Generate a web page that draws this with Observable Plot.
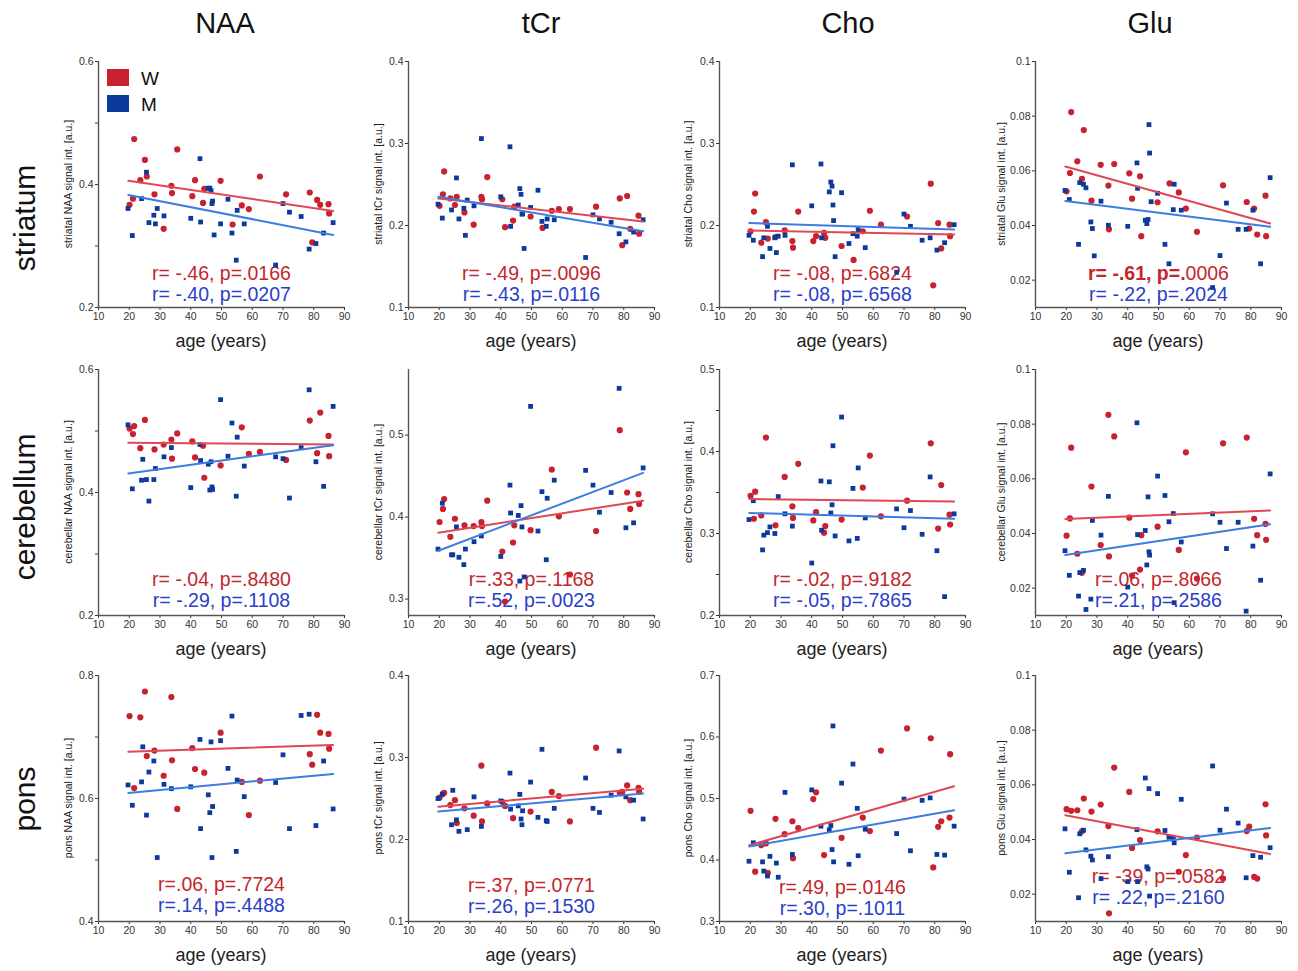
<!DOCTYPE html>
<html><head><meta charset="utf-8">
<script src="https://cdn.jsdelivr.net/npm/d3@7"></script>
<script src="https://cdn.jsdelivr.net/npm/@observablehq/plot@0.6"></script>
<style>
html,body{margin:0;padding:0;background:#fff;}
#chart{position:relative;width:1298px;height:971px;overflow:hidden;background:#fff;font-family:"Liberation Sans",Arial,sans-serif;}
#chart svg{position:absolute;}
</style></head><body><div id="chart"></div>
<script>
// ---------------- DATA ----------------
const regions = ["striatum", "cerebellum", "pons"];
const regionAdj = ["striatal", "cerebellar", "pons"];
const metabolites = ["NAA", "tCr", "Cho", "Glu"];
const groups = ["W", "M"];

// subject ages (years)
const ageW = [20.1, 21.2, 21.6, 23.6, 25.1, 25.7, 28.2, 31.2, 33.7, 33.9, 35.6, 40.5, 41.4, 44.0, 44.4, 49.7, 53.6, 56.6, 58.9, 62.5, 71.0, 78.7, 79.5, 81.1, 82.1, 84.8, 85.0];
const ageM = [19.6, 21.0, 24.0, 24.4, 25.6, 26.4, 28.0, 28.5, 29.1, 31.3, 33.7, 40.0, 43.0, 43.2, 45.7, 46.2, 46.6, 46.9, 47.1, 47.6, 49.7, 52.1, 53.4, 54.8, 55.1, 57.4, 67.6, 70.0, 72.1, 75.9, 78.5, 80.7, 83.2, 86.3];

// signal intensities [a.u.]
const striatumNAA_W = [0.367, 0.377, 0.474, 0.407, 0.440, 0.413, 0.384, 0.328, 0.398, 0.386, 0.457, 0.381, 0.407, 0.370, 0.393, 0.406, 0.335, 0.366, 0.360, 0.413, 0.384, 0.387, 0.306, 0.375, 0.367, 0.368, 0.353];
const striatumNAA_M = [0.361, 0.317, 0.377, null, 0.420, 0.338, 0.350, 0.336, 0.361, 0.349, null, 0.345, 0.442, 0.339, 0.394, 0.394, 0.390, 0.369, 0.373, 0.318, 0.336, 0.376, 0.321, 0.277, 0.358, 0.336, 0.269, 0.369, 0.355, 0.348, 0.295, 0.304, 0.321, 0.338];
const striatumTCr_W = [0.224, 0.238, 0.266, 0.233, 0.225, 0.235, 0.216, 0.201, 0.235, 0.232, 0.259, 0.232, 0.198, 0.206, 0.223, 0.211, 0.197, 0.218, 0.220, 0.220, 0.223, 0.233, 0.176, 0.236, 0.196, 0.212, 0.190];
const striatumTCr_M = [0.226, 0.209, 0.219, null, 0.258, 0.208, 0.221, 0.188, 0.231, 0.224, 0.306, 0.235, 0.296, 0.199, 0.225, 0.245, 0.238, 0.214, 0.214, 0.172, 0.222, 0.243, 0.205, 0.199, 0.208, 0.207, 0.161, 0.213, 0.208, 0.204, 0.190, 0.180, 0.192, 0.207];
const striatumCho_W = [0.193, 0.217, 0.239, 0.179, 0.204, 0.184, 0.186, 0.194, 0.181, 0.173, 0.217, 0.181, 0.187, 0.191, 0.185, 0.175, 0.158, 0.193, 0.218, 0.201, 0.211, 0.251, 0.127, 0.203, 0.172, 0.201, 0.187];
const striatumCho_M = [0.188, 0.182, 0.162, 0.185, 0.199, 0.172, 0.185, 0.167, 0.187, 0.188, 0.274, 0.224, 0.275, 0.185, 0.241, 0.253, 0.248, 0.225, 0.206, 0.162, 0.240, 0.178, 0.190, 0.187, 0.195, 0.173, 0.143, 0.214, 0.199, 0.182, 0.185, 0.170, 0.179, 0.201];
const striatumGlu_W = [0.0525, 0.0592, 0.0815, 0.0635, 0.0571, 0.0749, 0.0491, 0.0622, 0.0546, 0.0386, 0.0625, 0.0591, 0.0498, 0.0580, 0.0361, 0.0485, 0.0554, 0.0521, 0.0462, 0.0377, 0.0547, 0.0486, 0.0389, 0.0462, 0.0367, 0.0509, 0.0361];
const striatumGlu_M = [0.0528, 0.0495, 0.0331, 0.0557, 0.0551, 0.0538, 0.0413, 0.0389, 0.0289, 0.0489, 0.0401, 0.0397, 0.0629, 0.0536, 0.0419, 0.0407, 0.0422, 0.0769, 0.0665, 0.0487, 0.0518, 0.0331, 0.0260, 0.0458, 0.0551, 0.0456, 0.0173, 0.0290, 0.0482, 0.0386, 0.0386, 0.0456, 0.0260, 0.0575];

const cerebellumNAA_W = [0.504, 0.495, 0.508, 0.472, 0.518, null, 0.470, 0.478, 0.486, 0.455, 0.496, 0.483, 0.457, 0.476, 0.424, 0.444, null, 0.506, 0.463, 0.466, 0.453, 0.517, null, 0.464, 0.530, 0.492, 0.459];
const cerebellumNAA_M = [0.510, 0.406, 0.420, 0.454, 0.421, 0.386, 0.421, 0.439, null, 0.458, 0.473, 0.408, 0.478, 0.452, 0.446, 0.404, 0.450, 0.409, 0.405, null, 0.551, 0.459, 0.513, 0.394, 0.490, 0.443, 0.458, 0.455, 0.391, 0.473, 0.567, 0.450, 0.410, 0.540];
const cerebellumTCr_W = [0.394, 0.410, 0.422, 0.376, 0.398, null, 0.390, 0.389, 0.394, 0.389, 0.420, 0.358, 0.297, 0.369, 0.390, 0.384, null, 0.458, 0.401, 0.330, 0.383, 0.506, null, 0.430, 0.410, 0.428, 0.416];
const cerebellumTCr_M = [0.361, 0.417, 0.354, 0.354, 0.388, 0.351, 0.342, 0.361, null, 0.370, 0.377, 0.352, 0.439, 0.405, 0.402, 0.322, 0.414, 0.388, null, 0.327, 0.535, 0.383, 0.431, 0.348, 0.423, 0.445, 0.457, 0.439, 0.406, 0.430, 0.557, 0.387, 0.393, 0.460];
const cerebellumCho_W = [0.346, 0.318, 0.351, 0.322, 0.417, null, 0.310, 0.369, 0.333, 0.319, 0.385, 0.316, 0.326, 0.301, 0.309, 0.317, null, 0.356, 0.395, 0.321, 0.340, 0.410, null, 0.306, 0.359, 0.323, 0.311];
const cerebellumCho_M = [0.317, 0.340, 0.280, 0.298, 0.301, 0.308, 0.300, null, 0.345, 0.324, 0.309, 0.264, 0.364, 0.304, 0.363, 0.325, 0.335, 0.407, null, 0.297, 0.442, 0.291, 0.355, 0.294, 0.380, 0.319, 0.330, 0.307, 0.328, 0.299, 0.369, 0.279, 0.223, 0.324];
const cerebellumGlu_W = [0.0392, 0.0455, 0.0714, 0.0326, 0.0256, null, 0.0572, 0.0358, 0.0834, 0.0316, 0.0755, 0.0458, 0.0246, 0.0268, 0.0394, 0.0425, null, 0.0340, 0.0697, 0.0235, 0.0730, 0.0751, null, 0.0454, 0.0394, 0.0435, 0.0377];
const cerebellumGlu_M = [0.0337, 0.0247, 0.0171, 0.0257, 0.0265, 0.0122, 0.0160, 0.0448, null, 0.0394, 0.0536, 0.0204, 0.0805, 0.0396, 0.0411, 0.0285, 0.0534, 0.0333, 0.0321, null, 0.0610, 0.0539, 0.0443, 0.0473, 0.0147, 0.0369, 0.0472, 0.0441, 0.0345, 0.0441, 0.0116, 0.0354, 0.0229, 0.0618];

const ponsNAA_W = [0.734, null, 0.617, 0.732, 0.774, 0.669, 0.678, 0.637, 0.765, 0.662, 0.583, 0.682, 0.648, null, 0.642, 0.707, null, 0.627, 0.573, 0.629, null, 0.672, 0.655, 0.736, 0.707, 0.705, 0.681];
const ponsNAA_M = [0.622, 0.589, 0.627, 0.684, 0.573, 0.643, 0.661, null, 0.504, 0.623, 0.616, 0.619, 0.696, 0.551, 0.606, 0.577, 0.692, 0.504, 0.587, null, 0.694, 0.649, 0.734, 0.514, 0.630, 0.603, 0.626, 0.671, 0.551, 0.735, 0.737, 0.556, 0.661, 0.583];
const ponsTCr_W = [0.251, 0.256, 0.257, 0.242, 0.248, 0.220, 0.238, 0.229, 0.290, 0.222, 0.244, 0.246, 0.241, 0.226, null, 0.234, null, 0.258, 0.253, 0.222, 0.312, 0.257, 0.258, 0.266, 0.248, 0.263, 0.258];
const ponsTCr_M = [0.250, 0.255, 0.218, 0.260, 0.224, 0.210, null, null, 0.212, 0.252, 0.216, 0.247, 0.281, 0.237, 0.241, 0.255, 0.225, 0.218, 0.235, null, 0.270, 0.227, 0.310, 0.223, 0.222, 0.238, 0.275, 0.238, 0.233, 0.254, 0.308, 0.252, 0.248, 0.225];
const ponsCho_W = [0.480, null, 0.381, 0.424, 0.427, 0.379, 0.467, 0.442, 0.463, 0.403, 0.452, 0.499, 0.510, 0.408, null, 0.436, null, 0.469, 0.447, 0.578, 0.614, 0.598, 0.388, 0.454, 0.463, 0.469, 0.572];
const ponsCho_M = [0.398, 0.428, 0.397, 0.382, 0.374, 0.406, null, 0.395, 0.372, 0.510, 0.409, 0.514, 0.455, null, 0.449, 0.456, 0.417, 0.618, 0.397, null, 0.525, 0.393, 0.556, 0.484, 0.407, 0.450, 0.443, 0.499, 0.415, 0.497, 0.501, 0.409, 0.408, 0.455];
const ponsGlu_W = [0.0511, null, 0.0505, 0.0507, 0.0430, 0.0550, 0.0502, 0.0528, 0.0449, 0.0130, 0.0663, 0.0574, 0.0369, 0.0398, null, 0.0430, null, 0.0282, 0.0343, 0.0407, 0.0257, 0.0431, 0.0447, 0.0263, 0.0257, 0.0529, 0.0415];
const ponsGlu_M = [0.0439, 0.0280, 0.0187, 0.0421, 0.0434, 0.0362, 0.0339, 0.0325, null, 0.0257, 0.0337, 0.0246, 0.0436, 0.0246, 0.0625, 0.0300, 0.0292, 0.0586, 0.0193, null, 0.0568, 0.0433, 0.0408, 0.0405, 0.0388, 0.0547, 0.0669, 0.0434, 0.0511, 0.0460, 0.0260, 0.0341, 0.0335, 0.0370];

// regression lines: values at the two ends of the fitted age range
const fitAges = [19.7, 86.3];
const fitW = [[0.406, 0.357], [0.233, 0.205], [0.194, 0.189], [0.0616, 0.0407],
              [0.481, 0.478], [0.381, 0.420], [0.342, 0.339], [0.0453, 0.0484],
              [0.676, 0.687], [0.240, 0.262], [0.424, 0.520], [0.0489, 0.0347]];
const fitM = [[0.383, 0.318], [0.235, 0.193], [0.203, 0.195], [0.0490, 0.0395],
              [0.431, 0.477], [0.359, 0.454], [0.325, 0.318], [0.0321, 0.0434],
              [0.609, 0.640], [0.234, 0.256], [0.422, 0.481], [0.0350, 0.0442]];

// correlation statistics
const statsW = ["r= -.46, p=.0166", "r= -.49, p=.0096", "r= -.08, p=.6824", "r= -.61, p=.0006",
                "r= -.04, p=.8480", "r=.33, p=.1168", "r= -.02, p=.9182", "r=.06, p=.8066",
                "r=.06, p=.7724", "r=.37, p=.0771", "r=.49, p=.0146", "r= -39, p=.0582"];
const statsM = ["r= -.40, p=.0207", "r= -.43, p=.0116", "r= -.08, p=.6568", "r= -.22, p=.2024",
                "r= -.29, p=.1108", "r=.52, p=.0023", "r= -.05, p=.7865", "r=.21, p=.2586",
                "r=.14, p=.4488", "r=.26, p=.1530", "r=.30, p=.1011", "r= .22, p=.2160"];
const boldCharsW = [0, 0, 0, 12, 0, 0, 0, 0, 0, 0, 0, 0];

// axes
const xTicks = [10, 20, 30, 40, 50, 60, 70, 80, 90];
const yDomains = [[0.2, 0.6], [0.1, 0.4], [0.1, 0.4], [0.01, 0.1],
                  [0.2, 0.6], [0.28, 0.58], [0.2, 0.5], [0.01, 0.1],
                  [0.4, 0.8], [0.1, 0.4], [0.3, 0.7], [0.01, 0.1]];
const yTicks = [[0.2, 0.4, 0.6], [0.1, 0.2, 0.3, 0.4], [0.1, 0.2, 0.3, 0.4], [0.02, 0.04, 0.06, 0.08, 0.1],
                [0.2, 0.4, 0.6], [0.3, 0.4, 0.5], [0.2, 0.3, 0.4, 0.5], [0.02, 0.04, 0.06, 0.08, 0.1],
                [0.4, 0.6, 0.8], [0.1, 0.2, 0.3, 0.4], [0.3, 0.4, 0.5, 0.6, 0.7], [0.02, 0.04, 0.06, 0.08, 0.1]];
const yMinorTicks = [[0.3, 0.5], [], [], [],
                     [0.3, 0.5], [], [0.25, 0.35, 0.45], [],
                     [0.5, 0.7], [], [], []];

// ---------------- LAYOUT / STYLE ----------------
const FONT = '"Liberation Sans", Arial, Helvetica, sans-serif';
const RED = "#c8212f", BLUE = "#0b3a9c";
const RED_LINE = "#e04855", BLUE_LINE = "#3b7de0";
const RED_TXT = "#c3262b", BLUE_TXT = "#2a40c8";
const AXIS = "#555";
const colLeft = [98, 408, 719, 1035];
const rowTop = [61, 369, 675];
const frameW = 246, frameH = 246;
const mL = 46, mR = 14, mT = 14, mB = 30;
const statDy = [[-28, -7], [-28, -7], [-28, -7], [-28, -7],
                [-30, -9], [-30, -9], [-30, -9], [-30, -9],
                [-31, -10], [-30, -9], [-28, -7], [-39, -18]];

const valuesW = [striatumNAA_W, striatumTCr_W, striatumCho_W, striatumGlu_W,
                 cerebellumNAA_W, cerebellumTCr_W, cerebellumCho_W, cerebellumGlu_W,
                 ponsNAA_W, ponsTCr_W, ponsCho_W, ponsGlu_W];
const valuesM = [striatumNAA_M, striatumTCr_M, striatumCho_M, striatumGlu_M,
                 cerebellumNAA_M, cerebellumTCr_M, cerebellumCho_M, cerebellumGlu_M,
                 ponsNAA_M, ponsTCr_M, ponsCho_M, ponsGlu_M];

const chart = document.getElementById("chart");

regions.forEach((region, r) => {
  metabolites.forEach((met, c) => {
    const k = r * 4 + c;
    const ptsW = ageW.map((a, i) => ({age: a, v: valuesW[k][i]})).filter(d => d.v != null);
    const ptsM = ageM.map((a, i) => ({age: a, v: valuesM[k][i]})).filter(d => d.v != null);
    const lineW = fitAges.map((a, i) => ({age: a, v: fitW[k][i]}));
    const lineM = fitAges.map((a, i) => ({age: a, v: fitM[k][i]}));
    const svg = Plot.plot({
      width: mL + frameW + mR,
      height: mT + frameH + mB,
      marginLeft: mL, marginRight: mR, marginTop: mT, marginBottom: mB,
      style: {fontFamily: FONT, fontSize: "10.5px", background: "transparent", overflow: "visible"},
      x: {domain: [10, 90]},
      y: {domain: yDomains[k]},
      marks: [
        Plot.axisX({ticks: xTicks, tickSize: 3, tickPadding: 2, label: null, color: "#333", fontSize: 10.5, tickFormat: d => String(d)}),
        Plot.axisY({ticks: yTicks[k], tickSize: 3, tickPadding: 2, label: null, color: "#333", fontSize: 10.5, tickFormat: d => String(d)}),
        Plot.axisY({ticks: yMinorTicks[k], tickSize: 3, tickFormat: () => "", label: null, color: "#333"}),
        Plot.ruleX([10], {stroke: AXIS, strokeWidth: 1.4}),
        Plot.ruleY([yDomains[k][0]], {stroke: AXIS, strokeWidth: 1.4}),
        Plot.text([statsW[k]], {text: d => d, frameAnchor: "bottom", dy: statDy[k][0], fill: RED_TXT, fontSize: 19.5}),
        Plot.text([statsM[k]], {text: d => d, frameAnchor: "bottom", dy: statDy[k][1], fill: BLUE_TXT, fontSize: 19.5}),
        Plot.dot(ptsW, {x: "age", y: "v", r: 3.1, fill: RED, stroke: "none"}),
        Plot.dot(ptsM, {x: "age", y: "v", r: 2.7, symbol: "square", fill: BLUE, stroke: "none"}),
        Plot.line(lineW, {x: "age", y: "v", stroke: RED_LINE, strokeWidth: 2}),
        Plot.line(lineM, {x: "age", y: "v", stroke: BLUE_LINE, strokeWidth: 2})
      ]
    });
    svg.style.left = (colLeft[c] - mL) + "px";
    svg.style.top = (rowTop[r] - mT) + "px";
    // partial bold in the W statistic
    if (boldCharsW[k] > 0) {
      const texts = svg.querySelectorAll('g[aria-label="text"] text');
      const t = texts[0];
      const s = t.textContent;
      t.textContent = "";
      const ns = "http://www.w3.org/2000/svg";
      const b = document.createElementNS(ns, "tspan");
      b.setAttribute("font-weight", "bold");
      b.textContent = s.slice(0, boldCharsW[k]);
      const n = document.createElementNS(ns, "tspan");
      n.textContent = s.slice(boldCharsW[k]);
      t.appendChild(b); t.appendChild(n);
    }
    chart.appendChild(svg);
  });
});

// ---------------- OVERLAY TEXT ----------------
const ov = d3.select(chart).append("svg")
  .attr("width", 1298).attr("height", 971)
  .style("left", "0px").style("top", "0px")
  .style("font-family", FONT);

const titleX = [225, 541, 848, 1150];
metabolites.forEach((m, c) => {
  ov.append("text").attr("x", titleX[c]).attr("y", 33).attr("text-anchor", "middle")
    .attr("font-size", 29).attr("fill", "#111").text(m);
});
const rowLabelY = [218, 507, 799];
regions.forEach((reg, r) => {
  ov.append("text").attr("transform", `translate(35,${rowLabelY[r]}) rotate(-90)`)
    .attr("text-anchor", "middle").attr("font-size", 30).attr("fill", "#111").text(reg);
});
const yLabelOffset = [30, 30, 31, 34];
regions.forEach((reg, r) => {
  metabolites.forEach((m, c) => {
    const cx = colLeft[c] + frameW / 2;
    ov.append("text").attr("x", cx).attr("y", rowTop[r] + frameH + 40)
      .attr("text-anchor", "middle").attr("font-size", 18).attr("fill", "#222").text("age (years)");
    ov.append("text")
      .attr("transform", `translate(${colLeft[c] - yLabelOffset[c]},${rowTop[r] + frameH / 2}) rotate(-90)`)
      .attr("text-anchor", "middle").attr("dy", "0.35em").attr("font-size", 10.5).attr("fill", "#222")
      .text(`${regionAdj[r]} ${m} signal int. [a.u.]`);
  });
});
// legend
const legendColors = [RED, BLUE];
groups.forEach((g, i) => {
  ov.append("rect").attr("x", 107).attr("y", 69 + i * 26).attr("width", 22).attr("height", 17).attr("fill", legendColors[i]);
  ov.append("text").attr("x", 141).attr("y", 84.5 + i * 26).attr("font-size", 19).attr("fill", "#111").text(g);
});
</script>
</body></html>
